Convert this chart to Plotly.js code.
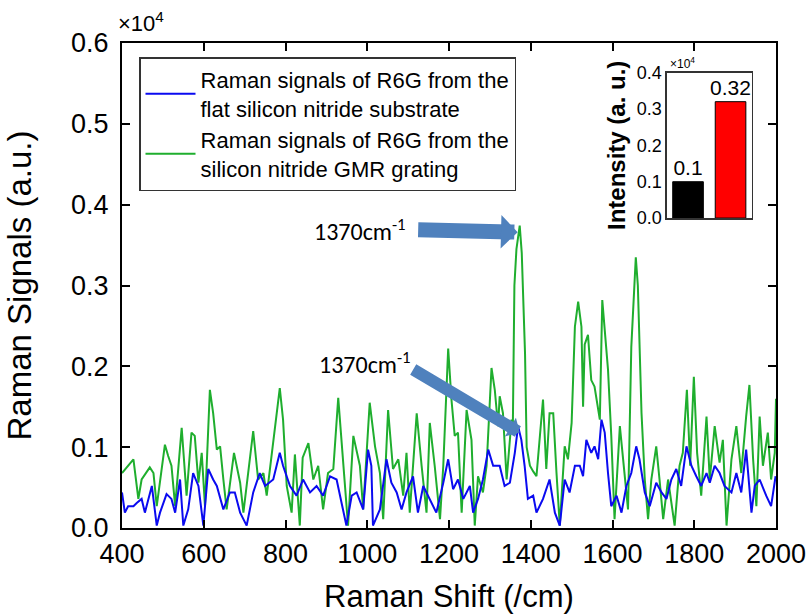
<!DOCTYPE html>
<html>
<head>
<meta charset="utf-8">
<script src="https://cdn.plot.ly/plotly-3.0.1.min.js"></script>
<style>html,body{margin:0;padding:0;background:#fff;}#chart{width:809px;height:616px;}</style>
</head>
<body>
<div id="chart"></div>
<script>
// Main spectrum (values in units of 10^4)
const greenShift = [400,428,440,448,468,477,485,505,513,521,530,546,558,570,578,587,595,603,615,623,632,640,648,656,674,689,697,721,733,746,754,770,786,794,803,815,823,835,842,856,868,880,892,904,917,929,941,953,966,982,990,1006,1019,1031,1039,1051,1063,1076,1088,1096,1104,1121,1133,1145,1153,1165,1178,1186,1198,1206,1214,1222,1231,1243,1255,1263,1271,1283,1292,1304,1312,1320,1324,1332,1341,1353,1356,1360,1365,1373,1378,1382,1386,1390,1398,1406,1414,1430,1438,1446,1455,1463,1471,1483,1491,1500,1508,1516,1524,1528,1532,1540,1548,1556,1565,1569,1575,1581,1589,1597,1605,1618,1630,1638,1646,1657,1662,1671,1679,1687,1695,1707,1715,1724,1736,1752,1764,1772,1782,1790,1799,1807,1817,1830,1838,1850,1862,1870,1879,1891,1903,1915,1927,1935,1944,1952,1960,1968,1980,1988,1997,2000];
const greenSignal = [0.068,0.085,0.036,0.060,0.075,0.068,0.027,0.103,0.089,0.077,0.027,0.124,0.040,0.118,0.114,0.056,0.093,0.027,0.171,0.142,0.097,0.101,0.060,0.023,0.093,0.056,0.019,0.120,0.060,0.068,0.040,0.103,0.173,0.134,0.052,0.019,0.091,0.003,0.087,0.105,0.060,0.077,0.023,0.068,0.073,0.161,0.077,0.003,0.114,0.077,0.023,0.155,0.101,0.068,0.011,0.146,0.073,0.085,0.040,0.093,0.019,0.142,0.077,0.019,0.130,0.077,0.011,0.077,0.222,0.159,0.114,0.118,0.019,0.146,0.109,0.003,0.064,0.044,0.077,0.198,0.171,0.126,0.163,0.142,0.060,0.134,0.118,0.300,0.345,0.374,0.340,0.280,0.216,0.100,0.077,0.070,0.064,0.159,0.073,0.142,0.142,0.068,0.003,0.101,0.085,0.130,0.249,0.280,0.249,0.150,0.227,0.239,0.183,0.175,0.150,0.134,0.282,0.245,0.196,0.114,0.011,0.126,0.060,0.023,0.224,0.335,0.300,0.142,0.060,0.011,0.060,0.101,0.060,0.011,0.060,0.003,0.077,0.093,0.171,0.077,0.187,0.093,0.040,0.138,0.060,0.126,0.081,0.109,0.003,0.085,0.126,0.068,0.138,0.177,0.085,0.027,0.138,0.077,0.118,0.060,0.093,0.160];

const blueShift = [400,407,415,428,436,448,456,473,485,493,509,521,530,542,550,562,574,587,599,611,623,632,648,664,676,689,705,721,737,750,770,786,794,811,827,843,860,876,892,909,925,941,949,962,974,990,1002,1010,1014,1031,1047,1059,1072,1084,1096,1112,1124,1137,1153,1169,1186,1198,1210,1222,1235,1251,1259,1271,1283,1296,1308,1324,1336,1349,1361,1369,1377,1385,1393,1406,1414,1430,1446,1459,1471,1483,1495,1508,1520,1528,1536,1548,1556,1565,1573,1581,1589,1597,1610,1622,1634,1646,1658,1666,1679,1691,1707,1720,1732,1744,1756,1768,1781,1793,1805,1817,1830,1838,1850,1862,1874,1891,1903,1915,1927,1940,1948,1960,1976,1988,1999];
const blueSignal = [0.044,0.019,0.027,0.027,0.031,0.036,0.019,0.052,0.003,0.019,0.042,0.036,0.019,0.060,0.003,0.023,0.068,0.052,0.003,0.073,0.060,0.052,0.023,0.044,0.044,0.019,0.003,0.044,0.068,0.052,0.060,0.093,0.077,0.052,0.040,0.060,0.044,0.052,0.040,0.064,0.060,0.019,0.003,0.040,0.044,0.023,0.097,0.077,0.003,0.023,0.085,0.056,0.044,0.023,0.044,0.064,0.019,0.052,0.036,0.019,0.056,0.085,0.048,0.060,0.036,0.052,0.019,0.036,0.060,0.097,0.077,0.077,0.052,0.056,0.093,0.126,0.109,0.077,0.036,0.040,0.019,0.036,0.060,0.019,0.003,0.060,0.044,0.077,0.077,0.064,0.109,0.093,0.101,0.085,0.134,0.118,0.068,0.027,0.040,0.019,0.052,0.068,0.101,0.085,0.044,0.027,0.056,0.044,0.036,0.060,0.073,0.052,0.101,0.077,0.064,0.052,0.068,0.056,0.077,0.068,0.052,0.044,0.068,0.044,0.097,0.019,0.052,0.060,0.040,0.027,0.064];

// Inset bar chart
const barCategories = [0, 1];
const barValues = [0.1, 0.32];
const barLabels = ['0.1', '0.32'];
const barColors = ['#000000', '#ff0000'];

const xTicks = [400,600,800,1000,1200,1400,1600,1800,2000];

const font = 'Arial, "Liberation Sans", sans-serif';
const calloutFont = 'Calibri, Carlito, "Liberation Sans", sans-serif';

const traces = [
  {x: greenShift, y: greenSignal, type: 'scatter', mode: 'lines',
   line: {color: '#1fae2e', width: 2}, legendrank: 2,
   name: 'Raman signals of R6G from the<br>silicon nitride GMR grating'},
  {x: blueShift, y: blueSignal, type: 'scatter', mode: 'lines',
   line: {color: '#0a0af0', width: 2}, legendrank: 1,
   name: 'Raman signals of R6G from the<br>flat silicon nitride substrate'},
  {x: barCategories, y: barValues, type: 'bar', xaxis: 'x2', yaxis: 'y2',
   marker: {color: barColors, line: {color: '#000', width: 1}}, width: 0.72,
   text: barLabels, textposition: 'outside', cliponaxis: false, constraintext: 'none',
   textfont: {family: font, size: 21, color: '#000'}, showlegend: false, hoverinfo: 'skip'}
];

const layout = {
  width: 809, height: 616,
  margin: {l: 122, r: 33, t: 43, b: 88},
  paper_bgcolor: '#fff', plot_bgcolor: '#fff',
  font: {family: font, color: '#000'},
  showlegend: true,
  legend: {x: 0.026, y: 0.971, xanchor: 'left', yanchor: 'top', itemwidth: 50,
    bgcolor: '#fff', bordercolor: '#333', borderwidth: 1.5,
    font: {family: font, size: 22, color: '#000'}, tracegroupgap: 0},
  xaxis: {range: [400, 2000], tickvals: xTicks, ticks: 'inside', ticklen: 8, tickwidth: 2,
    tickcolor: '#000', showline: true, linecolor: '#000', linewidth: 2, mirror: 'ticks',
    showgrid: false, zeroline: false, tickfont: {family: font, size: 27, color: '#000'},
    ticklabelstandoff: 1,
    title: {text: 'Raman Shift (/cm)', font: {family: font, size: 31, color: '#000'}, standoff: 17}},
  yaxis: {range: [0, 0.6], dtick: 0.1, tick0: 0, tickformat: '.1f', ticks: 'inside', ticklen: 8, tickwidth: 2,
    tickcolor: '#000', showline: true, linecolor: '#000', linewidth: 2, mirror: 'ticks',
    showgrid: false, zeroline: false, tickfont: {family: font, size: 27, color: '#000'},
    ticklabelstandoff: 6,
    title: {text: 'Raman Signals (a.u.)', font: {family: font, size: 33, color: '#000'}, standoff: 30}},
  xaxis2: {domain: [0.833, 0.963], anchor: 'y2', range: [-0.5, 1.5], showticklabels: false, ticks: '',
    showline: true, linecolor: '#333', linewidth: 1.5, mirror: true, showgrid: false, zeroline: false, fixedrange: true},
  yaxis2: {domain: [0.639, 0.939], anchor: 'x2', range: [0, 0.4], dtick: 0.1, tick0: 0, tickformat: '.1f', ticks: '',
    showline: true, linecolor: '#333', linewidth: 1.5, mirror: true, showgrid: false, zeroline: false,
    tickfont: {family: font, size: 18, color: '#000'},
    title: {text: '<b>Intensity (a. u.)</b>', font: {family: font, size: 24, color: '#000'}, standoff: 4}},
  annotations: [
    {xref: 'paper', yref: 'paper', x: -0.009, y: 1.043, xanchor: 'left', yanchor: 'middle',
     text: '×10<sup>4</sup>', showarrow: false, font: {family: font, size: 22, color: '#000'}},
    {xref: 'paper', yref: 'paper', x: 0.835, y: 0.959, xanchor: 'left', yanchor: 'middle',
     text: '×10<sup>4</sup>', showarrow: false, font: {family: font, size: 12, color: '#000'}},
    {xref: 'paper', yref: 'paper', x: 0.364, y: 0.614, xanchor: 'center', yanchor: 'middle',
     text: '1370cm<sup>-1</sup>', showarrow: false, font: {family: calloutFont, size: 24, color: '#000'}},
    {xref: 'paper', yref: 'paper', x: 0.372, y: 0.340, xanchor: 'center', yanchor: 'middle',
     text: '1370cm<sup>-1</sup>', showarrow: false, font: {family: calloutFont, size: 24, color: '#000'}},
    {xref: 'x', yref: 'y', x: 1368, y: 0.366, ax: -101, ay: -2.5, text: '', showarrow: true,
     arrowhead: 1, arrowsize: 0.37, arrowwidth: 15, arrowcolor: '#4f81bd'},
    {xref: 'x', yref: 'y', x: 1373, y: 0.118, ax: -108, ay: -64, text: '', showarrow: true,
     arrowhead: 1, arrowsize: 0.3, arrowwidth: 12, arrowcolor: '#4f81bd'}
  ]
};

Plotly.newPlot('chart', traces, layout, {displayModeBar: false, staticPlot: true});
</script>
</body>
</html>
